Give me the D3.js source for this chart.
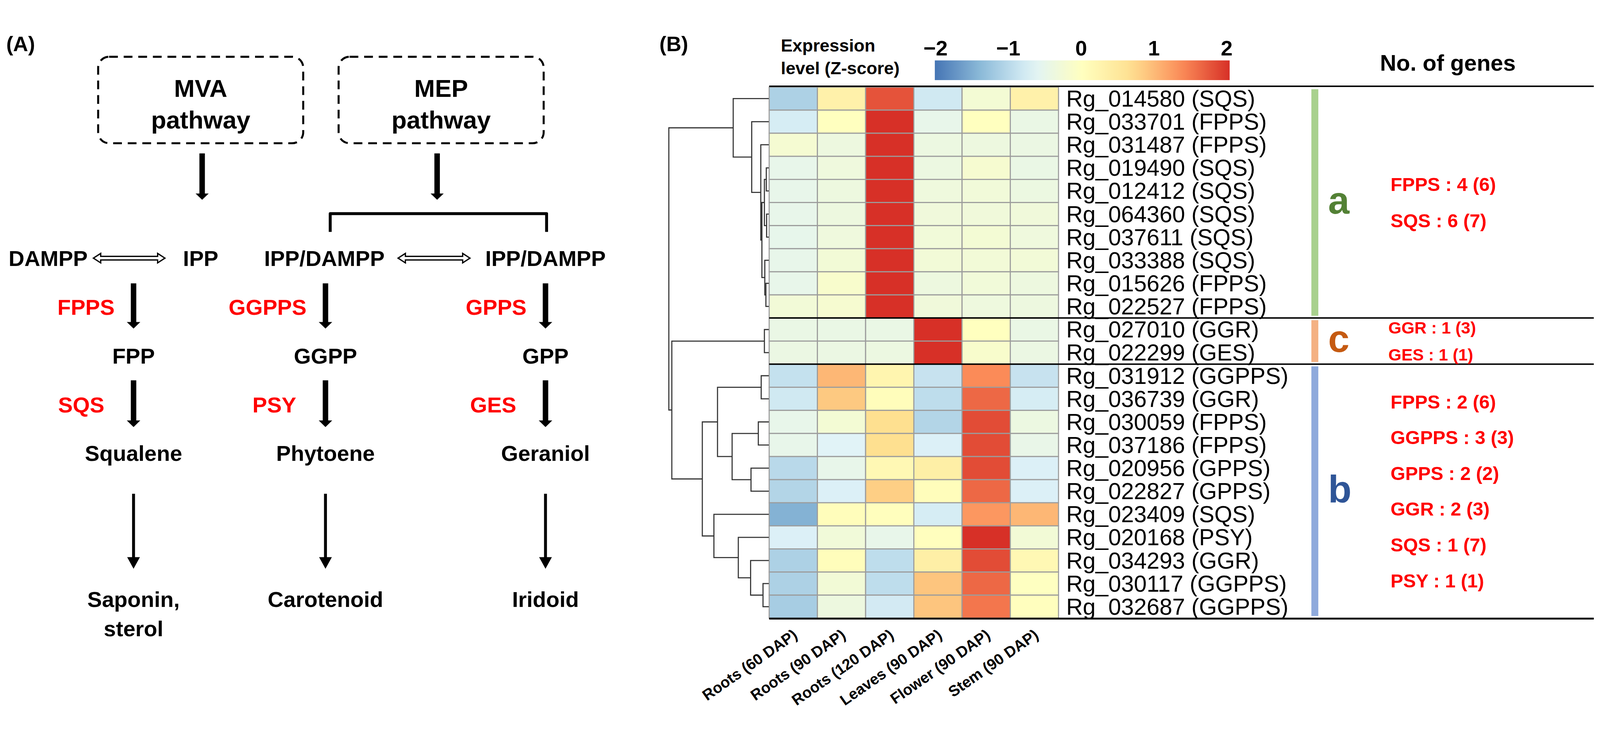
<!DOCTYPE html>
<html>
<head>
<meta charset="utf-8">
<script src="https://cdn.jsdelivr.net/npm/d3@7"></script>
<style>
  html, body { margin: 0; padding: 0; background: #fff; overflow: hidden; }
  svg { display: block; width: 100vw; height: 100vh; }
  text { font-family: "Liberation Sans", Arial, Helvetica, sans-serif; }
</style>
</head>
<body>
<svg id="fig" viewBox="0 0 4385 1887" preserveAspectRatio="xMidYMid meet"></svg>
<script>
// ---- panel B data ----
var tissues = ["Roots (60 DAP)", "Roots (90 DAP)", "Roots (120 DAP)", "Leaves (90 DAP)", "Flower (90 DAP)", "Stem (90 DAP)"];
var genes = ["Rg_014580 (SQS)", "Rg_033701 (FPPS)", "Rg_031487 (FPPS)", "Rg_019490 (SQS)", "Rg_012412 (SQS)",
  "Rg_064360 (SQS)", "Rg_037611 (SQS)", "Rg_033388 (SQS)", "Rg_015626 (FPPS)", "Rg_022527 (FPPS)",
  "Rg_027010 (GGR)", "Rg_022299 (GES)", "Rg_031912 (GGPPS)", "Rg_036739 (GGR)", "Rg_030059 (FPPS)",
  "Rg_037186 (FPPS)", "Rg_020956 (GPPS)", "Rg_022827 (GPPS)", "Rg_023409 (SQS)", "Rg_020168 (PSY)",
  "Rg_034293 (GGR)", "Rg_030117 (GGPPS)", "Rg_032687 (GGPPS)"];

// z-scores, one array per tissue (rows in gene order)
var zRoots60  = [-1.1, -0.75, -0.22, -0.5, -0.5, -0.5, -0.52, -0.5, -0.5, -0.28, -0.45, -0.42, -0.9, -0.8, -0.5, -0.5, -1.0, -1.05, -1.45, -0.7, -1.1, -1.1, -1.15];
var zRoots90  = [0.3, 0.0, -0.38, -0.35, -0.38, -0.38, -0.35, -0.27, -0.15, -0.2, -0.45, -0.42, 1.0, 0.85, -0.25, -0.65, -0.5, -0.7, 0.05, -0.3, 0.05, -0.27, -0.38];
var zRoots120 = [1.75, 2.0, 2.0, 2.0, 2.0, 2.0, 2.0, 2.0, 2.0, 2.0, -0.45, -0.4, 0.22, 0.05, 0.67, 0.67, 0.15, 0.8, 0.03, -0.5, -0.95, -0.95, -0.78];
var zLeaves90 = [-0.8, -0.5, -0.4, -0.4, -0.35, -0.33, -0.3, -0.28, -0.38, -0.32, 2.0, 2.0, -0.88, -0.95, -1.05, -0.7, 0.35, 0.05, -0.75, 0.02, 0.35, 0.88, 0.88];
var zFlower90 = [-0.25, 0.0, -0.38, -0.2, -0.3, -0.32, -0.25, -0.28, -0.3, -0.36, 0.0, -0.15, 1.35, 1.6, 1.8, 1.8, 1.8, 1.6, 1.25, 2.0, 1.8, 1.6, 1.5];
var zStem90   = [0.3, -0.45, -0.42, -0.45, -0.4, -0.32, -0.35, -0.28, -0.38, -0.38, -0.45, -0.42, -0.88, -0.75, -0.4, -0.48, -0.7, -0.7, 1.0, -0.27, 0.15, -0.02, 0.02];
var zColumns = [zRoots60, zRoots90, zRoots120, zLeaves90, zFlower90, zStem90];

// row dendrogram (leaf = gene index, h = merge height)
var rowTree = {h: 10.0, c: [
  {h: 3.56, c: [{leaf: 0}, {h: 1.71, c: [{leaf: 1}, {h: 0.8, c: [{leaf: 2}, {h: 0.69, c: [
    {h: 0.44, c: [{h: 0.25, c: [{leaf: 3}, {leaf: 4}]}, {h: 0.22, c: [{leaf: 5}, {leaf: 6}]}]},
    {h: 0.4, c: [{leaf: 7}, {h: 0.29, c: [{leaf: 8}, {leaf: 9}]}]}]}]}]}]},
  {h: 9.7, c: [
    {h: 0.44, c: [{leaf: 10}, {leaf: 11}]},
    {h: 6.65, c: [
      {h: 5.13, c: [{h: 0.76, c: [{leaf: 12}, {leaf: 13}]},
        {h: 3.67, c: [{h: 1.05, c: [{leaf: 14}, {leaf: 15}]}, {h: 1.78, c: [{leaf: 16}, {leaf: 17}]}]}]},
      {h: 5.49, c: [{leaf: 18}, {h: 3.05, c: [{leaf: 19}, {h: 1.82, c: [{leaf: 20}, {h: 0.58, c: [{leaf: 21}, {leaf: 22}]}]}]}]}
    ]}
  ]}
]};

var clusterNames = ["a", "c", "b"];
var clusterFirst = [0, 10, 12];
var clusterLast = [9, 11, 22];
var clusterCounts = [
  ["FPPS : 4 (6)", "SQS : 6 (7)"],
  ["GGR : 1 (3)", "GES : 1 (1)"],
  ["FPPS : 2 (6)", "GGPPS : 3 (3)", "GPPS : 2 (2)", "GGR : 2 (3)", "SQS : 1 (7)", "PSY : 1 (1)"]
];
var legendTicks = [-2, -1, 0, 1, 2];

// ---- panel A data ----
var routes = ["MVA", "MEP-GGPP", "MEP-GPP"];
var enzymes1 = ["FPPS", "GGPPS", "GPPS"];
var products1 = ["FPP", "GGPP", "GPP"];
var enzymes2 = ["SQS", "PSY", "GES"];
var products2 = ["Squalene", "Phytoene", "Geraniol"];
var endProducts = [["Saponin,", "sterol"], ["Carotenoid"], ["Iridoid"]];
var pathways = ["MVA", "MEP"];
var precursors = ["DAMPP", "IPP", "IPP/DAMPP", "IPP/DAMPP"];

var svg = d3.select("#fig");
var RED = "#ff0000";

// ======================= panel A =======================
svg.append("text").attr("x", 17).attr("y", 74).attr("font-size", 57).attr("font-weight", "bold").text("(A)");

var xRoute = d3.scaleOrdinal().domain(routes).range([366, 892, 1495]);
var yTier = d3.scaleLinear().domain([0, 1]).range([663, 796.5]);
var xBox = d3.scaleOrdinal().domain(pathways).range([550, 1209]);
var xPre = d3.scaleOrdinal().domain(d3.range(precursors.length)).range([132, 550, 889, 1495]);

function arrow(g, x, y0, y1, sw, hw, hh) {
  g.append("path")
    .attr("d", "M" + (x - sw / 2) + "," + y0 + "H" + (x + sw / 2) + "V" + (y1 - hh) + "H" + (x + hw / 2) +
      "L" + x + "," + y1 + "L" + (x - hw / 2) + "," + (y1 - hh) + "H" + (x - sw / 2) + "Z")
    .attr("fill", "#000");
}
function dblArrow(g, x0, x1, yc) {
  var hl = 20, hh = 13, sh = 5;
  g.append("path")
    .attr("d", "M" + x0 + "," + yc + "L" + (x0 + hl) + "," + (yc - hh) + "V" + (yc - sh) + "H" + (x1 - hl) +
      "V" + (yc - hh) + "L" + x1 + "," + yc + "L" + (x1 - hl) + "," + (yc + hh) + "V" + (yc + sh) +
      "H" + (x0 + hl) + "V" + (yc + hh) + "Z")
    .attr("fill", "#fff").attr("stroke", "#000").attr("stroke-width", 3.5).attr("stroke-linejoin", "miter");
}

var gA = svg.append("g");
// dashed pathway boxes
pathways.forEach(function (p) {
  var cx = xBox(p);
  gA.append("rect").attr("x", cx - 281).attr("y", 89).attr("width", 562).attr("height", 237).attr("rx", 30)
    .attr("fill", "none").attr("stroke", "#000").attr("stroke-width", 5.5).attr("stroke-dasharray", "24 16");
  gA.append("text").attr("x", cx).attr("y", 199).attr("text-anchor", "middle").attr("font-size", 68)
    .attr("font-weight", "bold").text(p);
  gA.append("text").attr("x", cx).attr("y", 286).attr("text-anchor", "middle").attr("font-size", 68)
    .attr("font-weight", "bold").text("pathway");
  arrow(gA, p === "MVA" ? cx + 4 : cx - 11, 354, 481, 15, 36, 17);
});
// bracket under MEP
gA.append("path").attr("d", "M905,569V519H1498V569").attr("fill", "none").attr("stroke", "#000")
  .attr("stroke-width", 8).attr("stroke-linejoin", "round");

precursors.forEach(function (t, i) {
  gA.append("text").attr("x", xPre(i)).attr("y", yTier(0)).attr("text-anchor", "middle")
    .attr("font-size", 60).attr("font-weight", "bold").text(t);
});
dblArrow(gA, 256, 452, yTier(0) - 22);
dblArrow(gA, 1091, 1288, yTier(0) - 22);

routes.forEach(function (r, i) {
  var x = xRoute(r);
  gA.append("text").attr("x", x - 52).attr("y", yTier(1)).attr("text-anchor", "end").attr("font-size", 60)
    .attr("font-weight", "bold").attr("fill", RED).text(enzymes1[i]);
  arrow(gA, x, yTier(0) + 47, yTier(2) - 96, 15, 37, 18);
  gA.append("text").attr("x", x).attr("y", yTier(2)).attr("text-anchor", "middle").attr("font-size", 60)
    .attr("font-weight", "bold").text(products1[i]);
  gA.append("text").attr("x", x - 80).attr("y", yTier(3)).attr("text-anchor", "end").attr("font-size", 60)
    .attr("font-weight", "bold").attr("fill", RED).text(enzymes2[i]);
  arrow(gA, x, yTier(2) + 46, yTier(4) - 93, 15, 37, 18);
  gA.append("text").attr("x", x).attr("y", yTier(4)).attr("text-anchor", "middle").attr("font-size", 60)
    .attr("font-weight", "bold").text(products2[i]);
  arrow(gA, x, yTier(4) + 90, yTier(7) - 105, 8, 35, 32);
  endProducts[i].forEach(function (t, k) {
    gA.append("text").attr("x", x).attr("y", yTier(7) + k * 80).attr("text-anchor", "middle").attr("font-size", 60)
      .attr("font-weight", "bold").text(t);
  });
});

// ======================= panel B =======================
svg.append("text").attr("x", 1807).attr("y", 74).attr("font-size", 57).attr("font-weight", "bold").text("(B)");

var x = d3.scaleBand().domain(tissues).range([2108, 2901]);
var y = d3.scaleBand().domain(genes).range([172, 1628]);
var palette = ["#4575B4", "#91BFDB", "#E0F3F8", "#FFFFBF", "#FEE090", "#FC8D59", "#D73027"];
var color = d3.scaleLinear().domain([-2, -4 / 3, -2 / 3, 0, 2 / 3, 4 / 3, 2]).range(palette).clamp(true);

var cells = [];
genes.forEach(function (gname, i) {
  tissues.forEach(function (t, j) { cells.push({gene: gname, tissue: t, v: zColumns[j][i]}); });
});
svg.append("g").selectAll("rect").data(cells).join("rect")
  .attr("x", function (d) { return x(d.tissue); })
  .attr("y", function (d) { return y(d.gene); })
  .attr("width", x.bandwidth()).attr("height", y.bandwidth())
  .attr("fill", function (d) { return color(d.v); })
  .attr("stroke", "#9c9c9c").attr("stroke-width", 3);

// gene labels
svg.append("g").selectAll("text").data(genes).join("text")
  .attr("x", 2922)
  .attr("y", function (d) { return y(d) + y.bandwidth() / 2 + 22; })
  .attr("font-size", 63).text(function (d) { return d; });

// column labels
svg.append("g").selectAll("text").data(tissues).join("text")
  .attr("transform", function (d) { return "translate(" + (x(d) + x.bandwidth() / 2 + 14) + ",1680) rotate(-35)"; })
  .attr("text-anchor", "end").attr("font-size", 42).attr("font-weight", "bold").text(function (d) { return d; });

// row dendrogram
var hx = d3.scaleLinear().domain([0, 10]).range([2107, 1833]);
var root = d3.hierarchy(rowTree, function (d) { return d.c; });
root.eachAfter(function (n) {
  if (n.children) {
    n.py = d3.mean(n.children, function (k) { return k.py; });
    n.px = hx(n.data.h);
  } else {
    n.py = y(genes[n.data.leaf]) + y.bandwidth() / 2;
    n.px = hx(0);
  }
});
svg.append("g").selectAll("path").data(root.descendants().filter(function (n) { return n.children; })).join("path")
  .attr("d", function (n) {
    var a = n.children[0], b = n.children[1];
    return "M" + a.px + "," + a.py + "H" + n.px + "V" + b.py + "H" + b.px;
  })
  .attr("fill", "none").attr("stroke", "#333").attr("stroke-width", 3);

// horizontal rules
var rules = [[170, 4], [y(genes[clusterFirst[1]]), 4], [y(genes[clusterFirst[2]]), 4], [1629, 5]];
svg.append("g").selectAll("line").data(rules).join("line")
  .attr("x1", 2108).attr("x2", 4368)
  .attr("y1", function (d) { return d[0]; }).attr("y2", function (d) { return d[0]; })
  .attr("stroke", "#000").attr("stroke-width", function (d) { return d[1]; });

// cluster bars, letters and gene counts
var barColor = {a: "#a9d18e", c: "#f4b183", b: "#8faadc"};
var letterColor = {a: "#538135", c: "#c55a11", b: "#2f5597"};
var countFont = {a: 52, c: 46, b: 52};
var countGap = {a: 100, c: 74, b: 98};
clusterNames.forEach(function (c, i) {
  var top = y(genes[clusterFirst[i]]), bot = y(genes[clusterLast[i]]) + y.bandwidth();
  var mid = (top + bot) / 2;
  svg.append("rect").attr("x", 3594).attr("y", top + 6).attr("width", 19).attr("height", bot - top - 12)
    .attr("fill", barColor[c]);
  svg.append("text").attr("x", 3640).attr("y", mid + 30).attr("font-size", 105).attr("font-weight", "bold")
    .attr("fill", letterColor[c]).text(c);
  var lines = clusterCounts[i];
  lines.forEach(function (t, k) {
    svg.append("text").attr("x", c === "c" ? 3805 : 3811)
      .attr("y", mid + (k - (lines.length - 1) / 2) * countGap[c] + countFont[c] * 0.35)
      .attr("font-size", countFont[c]).attr("font-weight", "bold").attr("fill", RED).text(t);
  });
});

svg.append("text").attr("x", 3968).attr("y", 127).attr("text-anchor", "middle").attr("font-size", 62)
  .attr("font-weight", "bold").text("No. of genes");

// colour key
var cb = d3.scaleLinear().domain([-2, 2]).range([2564, 3362]);
var grad = svg.append("defs").append("linearGradient").attr("id", "zgrad");
d3.range(0, 1.0001, 0.05).forEach(function (t) {
  grad.append("stop").attr("offset", t).attr("stop-color", color(-2 + 4 * t));
});
svg.append("rect").attr("x", cb(-2) - 2).attr("y", 99).attr("width", cb(2) - cb(-2) + 10).attr("height", 54)
  .attr("fill", "url(#zgrad)");
svg.append("g").selectAll("text").data(legendTicks).join("text")
  .attr("x", function (d) { return cb(d); }).attr("y", 85).attr("text-anchor", "middle")
  .attr("font-size", 58).attr("font-weight", "bold")
  .text(function (d) { return d < 0 ? "\u2212" + Math.abs(d) : d; });
svg.append("text").attr("x", 2140).attr("y", 75).attr("font-size", 48).attr("font-weight", "bold").text("Expression");
svg.append("text").attr("x", 2140).attr("y", 137).attr("font-size", 48).attr("font-weight", "bold").text("level (Z-score)");
</script>
</body>
</html>
